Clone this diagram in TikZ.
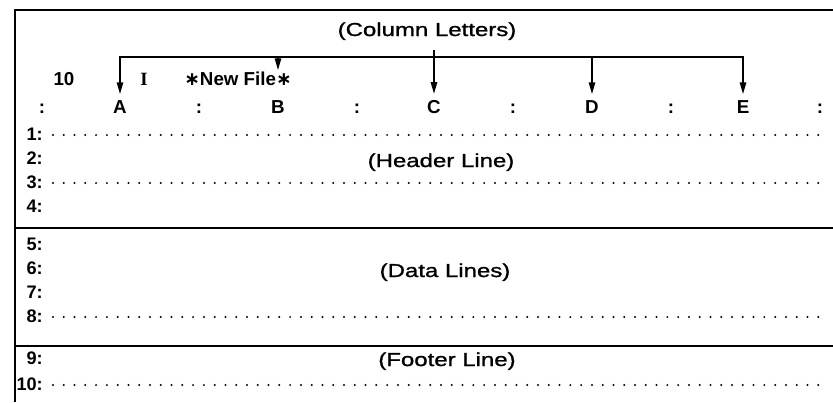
\documentclass[tikz,border=0pt]{standalone}
\usepackage{fontspec}
\setmainfont{Liberation Sans}
\newfontfamily\widesans[FakeStretch=1.28, FakeBold=1.2]{Liberation Sans}
\newfontfamily\cursorserif{Liberation Serif}
\newfontfamily\starfont{DejaVu Sans}
\usetikzlibrary{positioning, calc, arrows.meta}
\tikzset{
  % screen layout
  screenframe/.style = { line width=2.4pt },
  sectrule/.style    = { line width=1.8pt },
  dotrow/.style      = { line width=1.9pt, line cap=round, dash pattern=on 0pt off 9.2pt },
  rowlbl/.style      = { anchor=base east, inner sep=0pt,
                         font=\bfseries\fontsize{15.5}{18}\selectfont },
  collbl/.style      = { anchor=base, inner sep=1pt,
                         font=\bfseries\fontsize{16}{18}\selectfont },
  cursorlbl/.style   = { anchor=base, inner sep=1pt,
                         font=\cursorserif\bfseries\fontsize{16}{18}\selectfont },
  bigtag/.style      = { anchor=base, inner sep=1pt,
                         font=\widesans\fontsize{16}{19}\selectfont },
  % column letter pointers
  colarrow/.style    = { line width=1.3pt, -{Triangle[length=10pt, width=5.5pt]},
                         shorten >=4pt }
}
\newcommand{\midstar}{{\starfont ∗}}

\begin{document}
\begin{tikzpicture}[x=0.3mm, y=-0.3mm]
  \useasboundingbox (0,0) rectangle (833,402);

  % frame and section rules
  \draw[screenframe] (15,402) -- (15,10) -- (833,10);
  \draw[sectrule] (15,228) -- (833,228);
  \draw[sectrule] (15,346) -- (833,346);

  % status line
  \node[collbl] (colwidth) at (64,85) {10};
  \node[cursorlbl] (cursor) at (144,85) {I};
  \node[collbl] (fname) at (238,85) {\midstar New File\midstar};

  % column letters and separators
  \foreach \c/\x in {A/120, B/278, C/434, D/592, E/743}
    \node[collbl] (col\c) at (\x,113) {\c};
  \foreach \x [count=\i] in {42, 199, 357, 513, 671, 820}
    \node[collbl] (sep\i) at (\x,113) {:};

  \node[bigtag] (colhead) at (427,36) {(Column Letters)};

  \coordinate (brA) at (120,57);
  \coordinate (brB) at (278,57);
  \coordinate (brC) at (434,57);
  \coordinate (brD) at (592,57);
  \coordinate (brE) at (743,57);

  \draw[colarrow, {Triangle[length=10pt, width=5.5pt]}-{Triangle[length=10pt, width=5.5pt]},
        shorten <=4pt] (colA.north) -- (brA) -- (brE) -- (colE.north);
  \draw[colarrow, shorten >=0pt] (brB) -- (brB |- fname.north);
  \draw[colarrow] (brC) ++(0,-7) -- (colC.north);
  \draw[colarrow] (brD) -- (colD.north);

  % row numbers
  \foreach \n/\y in {1/140, 2/164, 3/188, 4/212, 5/250, 6/274, 7/298, 8/322, 9/364, 10/390}
    \node[rowlbl] (r\n) at (43,\y) {\n:};

  % dotted rule rows
  \foreach \n in {1, 3, 8, 10}
    \draw[dotrow] ($(r\n.base east)+(10,-5)$) -- ($(r\n.base east)+(777,-5)$);

  % section captions
  \node[bigtag] (header) at (441,167) {(Header Line)};
  \node[bigtag] (data) at (445,277) {(Data Lines)};
  \node[bigtag] (footer) at (447,366) {(Footer Line)};

\end{tikzpicture}
\end{document}
